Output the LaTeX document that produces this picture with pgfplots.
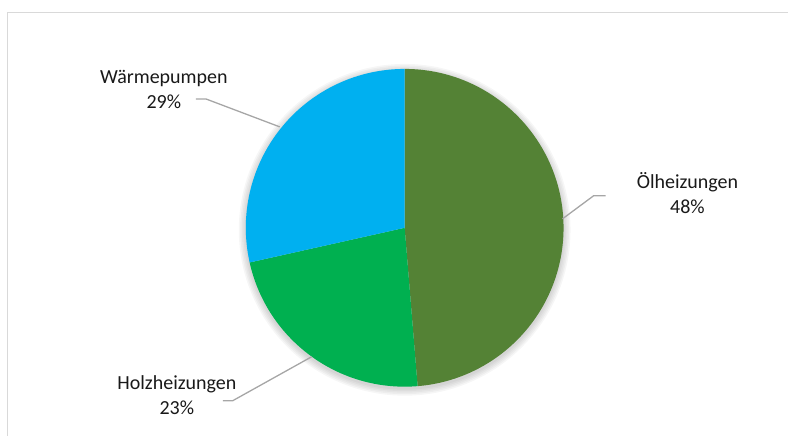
\documentclass[border=0pt]{standalone}
\usepackage{pgfplots}
\pgfplotsset{compat=1.18}
\usepackage{fontspec}
\setmainfont{Carlito}

\definecolor{oel}{HTML}{548235}
\definecolor{holz}{HTML}{00B050}
\definecolor{waerme}{HTML}{00B0F0}
\definecolor{leader}{HTML}{A6A6A6}
\definecolor{frame}{HTML}{D9D9D9}

% shares in percent, clockwise from the top (labels show them rounded)
\def\vOel{48.7}
\def\vHolz{22.8}
\def\vWaerme{28.5}

\pgfmathsetmacro{\aA}{90}
\pgfmathsetmacro{\aB}{\aA-3.6*\vOel}
\pgfmathsetmacro{\aC}{\aB-3.6*\vHolz}
\pgfmathsetmacro{\aD}{\aC-3.6*\vWaerme}

\begin{document}
\begin{tikzpicture}
\begin{axis}[
  x=1bp, y=1bp,
  xmin=-405, xmax=384, ymin=-208, ymax=228,
  hide axis, clip=false,
]
  \path (axis cs:-405,-208) rectangle (axis cs:384,228);
  % chart frame (cut at right and bottom)
  \draw[frame, line width=1.3bp] (axis cs:-397.5,-208) -- (axis cs:-397.5,215.5) -- (axis cs:384,215.5);

  % soft shadow
  \pgfplotsinvokeforeach{160,161.5,163,164.5,166}{
    \fill[black, opacity=0.035] (axis cs:0,-2) circle[radius=#1 bp];
  }

  \fill[oel] (axis cs:0,0) -- ++(\aA:159bp) arc[start angle=\aA, end angle=\aB, radius=159bp] -- cycle;
  \fill[holz] (axis cs:0,0) -- ++(\aB:159bp) arc[start angle=\aB, end angle=\aC, radius=159bp] -- cycle;
  \fill[waerme] (axis cs:0,0) -- ++(\aC:159bp) arc[start angle=\aC, end angle=\aD, radius=159bp] -- cycle;

  % leader lines
  \draw[leader, line width=1.3bp] (axis cs:-125,101) -- (axis cs:-199,129) -- (axis cs:-209,129);
  \draw[leader, line width=1.3bp] (axis cs:158,9) -- (axis cs:189,32) -- (axis cs:201,32);
  \draw[leader, line width=1.3bp] (axis cs:-93,-129) -- (axis cs:-172,-173) -- (axis cs:-182,-173);

  % data labels
  \node[align=center, font=\fontsize{20bp}{25bp}\selectfont, text=black!90] at (axis cs:-241,138) {Wärmepumpen\\29\%};
  \node[align=center, font=\fontsize{20bp}{25bp}\selectfont, text=black!90] at (axis cs:283,34.5) {Ölheizungen\\48\%};
  \node[align=center, font=\fontsize{20bp}{25bp}\selectfont, text=black!90] at (axis cs:-228,-167) {Holzheizungen\\23\%};
\end{axis}
\end{tikzpicture}
\end{document}
